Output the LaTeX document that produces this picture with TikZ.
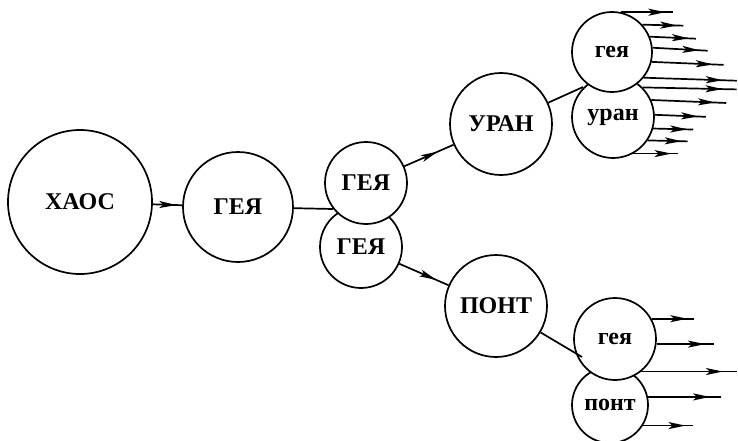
\documentclass[tikz,border=0pt]{standalone}
\usepackage{fontspec}
\setmainfont{Liberation Serif}
\usetikzlibrary{arrows.meta,decorations.markings}

\begin{document}
\begin{tikzpicture}[x=1pt,y=1pt,
	bubble/.style={draw,circle,fill=white,line width=1.7pt,inner sep=0pt,minimum size=#1pt,font=\fontsize{24}{28}\selectfont\bfseries},
	flow/.style={line width=1.7pt,postaction={decorate},decoration={markings,mark=at position #1 with {\arrow{Stealth[length=17pt,width=7pt,inset=4pt]}}}},
	flow/.default=0.7,
	link/.style={line width=1.7pt}]
	\useasboundingbox (0,0) rectangle (738,-441);
	% left part
	\node[bubble=144] (chaos) at (80,-202) {ХАОС};
	\node[bubble=110] (gaia) at (238,-207) {ГЕЯ};
	\node[bubble=82] (gaiaB) at (361,-247) {ГЕЯ};
	\node[bubble=82] (gaiaA) at (366,-183) {ГЕЯ};
	\node[bubble=102] (uranus) at (501,-124) {УРАН};
	\node[bubble=102] (pontus) at (496,-306) {ПОНТ};
	% pairs on the right
	\node[bubble=82] (uranU) at (613,-117) {уран};
	\node[bubble=80] (geyaU) at (612,-52) {гея};
	\node[bubble=76] (pontP) at (610,-405) {понт};
	\node[bubble=82] (geyaP) at (615,-339) {гея};
	\coordinate (jA) at (333,-209);
	\coordinate (jU) at (583,-87);
	\coordinate (jP) at (582,-357);
	\draw[flow=0.8] (chaos) -- (gaia);
	\draw[link] (gaia) -- (jA);
	\draw[flow=0.68] (gaiaA) -- (uranus);
	\draw[flow=0.75] (gaiaB) -- (pontus);
	\draw[link] (uranus) -- (jU);
	\draw[link] (pontus) -- (jP);
	% rays
	\foreach \a/\l/\d in {77/52/0,42/41/-1,22/46/-2,6/55/-3,-14/72/-3,-39/93/-3}
		\draw[flow=0.85] (geyaU.\a) -- ++(\l,\d);
	\foreach \a/\l/\d in {45/94/-2,24/75/-3,3/51/-2,-16/40/-1,-34/40/-1,-61/45/0}
		\draw[flow=0.85] (uranU.\a) -- ++(\l,\d);
	\foreach \a/\l in {29/42,-7/57,-51/96}
		\draw[flow=0.85] (geyaP.\a) -- ++(\l,0);
	\foreach \a/\l in {12/73,-32/50}
		\draw[flow=0.85] (pontP.\a) -- ++(\l,0);
\end{tikzpicture}
\end{document}
